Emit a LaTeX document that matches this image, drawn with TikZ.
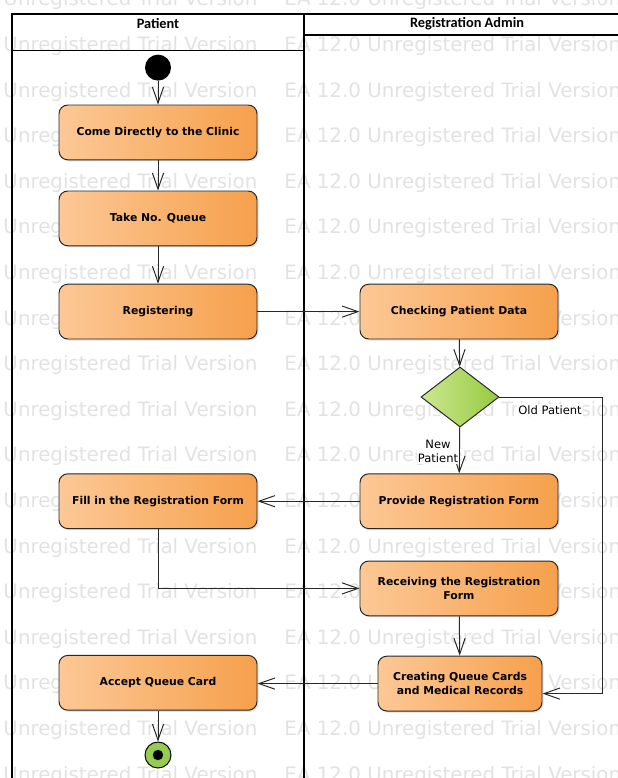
\documentclass[tikz,border=0pt]{standalone}
\usepackage{fontspec}
\setmainfont{DejaVu Sans}
\newfontfamily\headfont{Carlito}
\usepackage{tikz}
\usetikzlibrary{shapes,arrows.meta,positioning,shadows}
\usepackage{xcolor}

\definecolor{boxL}{RGB}{252,200,150}
\definecolor{boxR}{RGB}{246,160,76}
\definecolor{decL}{RGB}{204,232,146}
\definecolor{decR}{RGB}{150,202,62}
\definecolor{endG}{RGB}{150,205,80}
\definecolor{wmgray}{RGB}{226,226,226}
\definecolor{edge}{RGB}{40,40,40}

\begin{document}
\begin{tikzpicture}[>={Straight Barb[length=4mm,width=2.8mm]}, line width=0.7pt,
    action/.style={rectangle, rounded corners=0.22cm, draw=edge, left color=boxL, right color=boxR,
        minimum width=4.95cm, minimum height=1.37cm, align=center,
        font=\fontsize{7.7}{10}\selectfont\bfseries,
        drop shadow={shadow xshift=0.04cm, shadow yshift=-0.04cm, opacity=0.25}},
    decision/.style={diamond, draw=edge, left color=decL, right color=decR,
        minimum width=1.95cm, minimum height=1.5cm, inner sep=0pt},
    startnode/.style={circle, fill=black, minimum size=0.65cm, inner sep=0pt},
    endnode/.style={circle, draw=black, fill=endG, minimum size=0.65cm, inner sep=0pt,
        path picture={\fill[black] (path picture bounding box.center) circle (0.13cm);}},
    lbl/.style={fill=white, inner sep=1pt, font=\fontsize{8.2}{10}\selectfont},
    head/.style={font=\headfont\fontsize{10.2}{12}\selectfont\bfseries},
    wm/.style={anchor=base west, inner sep=0pt, text=wmgray, font=\fontsize{14.1}{16}\selectfont}]

    \useasboundingbox (0,0) rectangle (15.45,-19.45);
    \clip (0,0) rectangle (15.45,-19.45);

    % trial watermark rows
    \foreach \k in {0,...,17} {
        \node[wm] (wa\k) at (0.075,{-0.145-1.14*\k}) {Unregistered Trial Version};
        \node[wm] (wb\k) at (7.1,{-0.145-1.14*\k}) {EA 12.0 Unregistered Trial Version};
    }

    % swimlanes
    \draw[line width=0.9pt] (0.3,-19.45) -- (0.3,-0.35) -- (15.45,-0.35);
    \draw[line width=0.9pt] (7.6,-0.35) -- (7.6,-19.45);
    \draw[line width=0.9pt] (0.3,-1.27) -- (7.6,-1.27);
    \draw[line width=0.9pt] (7.6,-0.875) -- (15.45,-0.875);
    \node[head] (hpat) at (3.95,-0.6) {Patient};
    \node[head] (hadm) at (11.675,-0.6) {Registration Admin};

    % patient lane
    \node[startnode] (init) at (3.95,-1.69) {};
    \node[action] (come) at (3.95,-3.31) {Come Directly to the Clinic};
    \node[action] (take) at (3.95,-5.46) {Take No. Queue};
    \node[action] (reg) at (3.95,-7.79) {Registering};
    \node[action] (fill) at (3.95,-12.53) {Fill in the Registration Form};
    \node[action] (acc) at (3.95,-17.07) {Accept Queue Card};
    \node[endnode] (fin) at (3.95,-18.875) {};

    % admin lane
    \node[action] (check) at (11.475,-7.79) {Checking Patient Data};
    \node[decision] (dec) at (11.5,-9.925) {};
    \node[action] (prov) at (11.475,-12.53) {Provide Registration Form};
    \node[action] (recv) at (11.475,-14.71) {Receiving the Registration\\Form};
    \node[action, minimum width=4.1cm] (make) at (11.5,-17.09) {Creating Queue Cards\\and Medical Records};
    \coordinate (oldc) at (15.05,-9.925);

    \draw[->, draw=edge] (init) -- (come);
    \draw[->, draw=edge] (come) -- (take);
    \draw[->, draw=edge] (take) -- (reg);
    \draw[->, draw=edge] (reg) -- (check);
    \draw[->, draw=edge] (check) -- (dec);
    \draw[->, draw=edge] (dec) -- (prov);
    \draw[->, draw=edge] (dec.east) -- (oldc) |- ([yshift=-0.25cm]make.east);
    \draw[->, draw=edge] (prov) -- (fill);
    \draw[->, draw=edge] (fill.south) |- (recv.west);
    \draw[->, draw=edge] (recv) -- (make);
    \draw[->, draw=edge] (make.west) -- (acc.east |- make.west);
    \draw[->, draw=edge] (acc) -- (fin);

    \node[lbl] (lold) at (13.75,-10.25) {Old Patient};
    \node[lbl, align=center] (lnew) at (10.95,-11.275) {New\\Patient};

\end{tikzpicture}
\end{document}
